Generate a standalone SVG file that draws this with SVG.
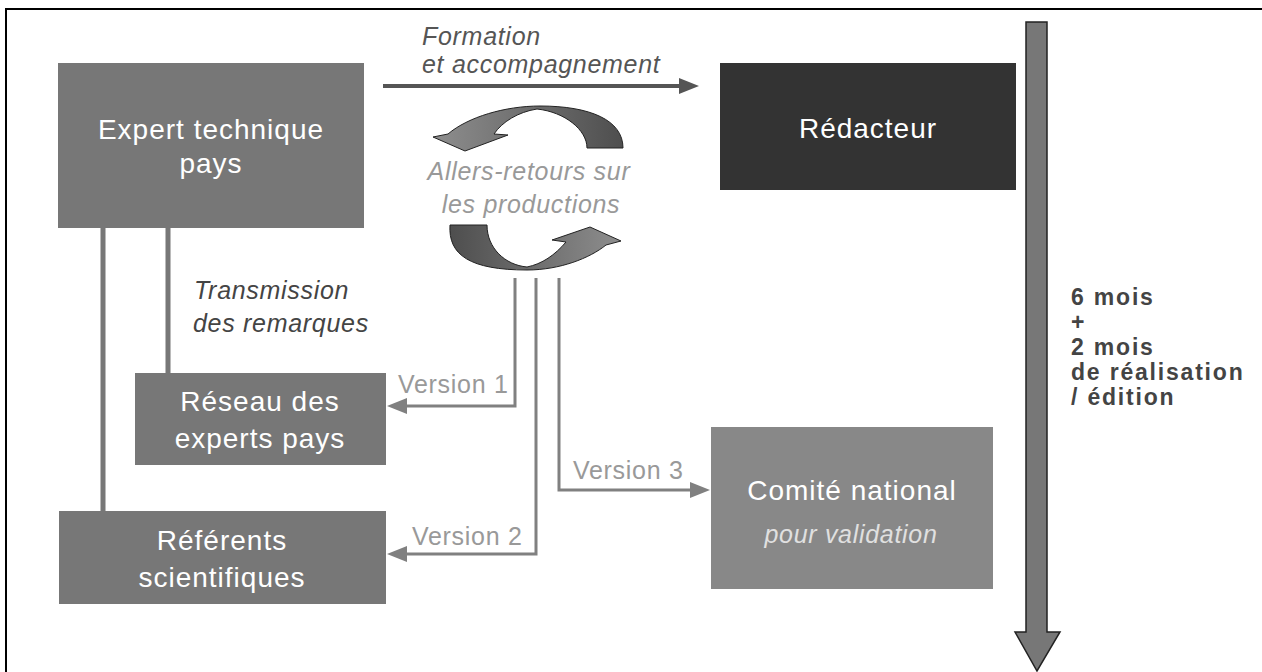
<svg xmlns="http://www.w3.org/2000/svg" width="1262" height="672" viewBox="0 0 1262 672">
<style>
.box{stroke:none}
.t{font-family:"Liberation Sans",Arial,sans-serif;font-size:28px;fill:#fff;text-anchor:middle;letter-spacing:1px}
.it{font-family:"Liberation Sans",Arial,sans-serif;font-size:25px;font-style:italic;letter-spacing:0.7px}
.ver{font-family:"Liberation Sans",Arial,sans-serif;font-size:25px;fill:#999;letter-spacing:0.7px}
.dur{font-family:"Liberation Sans",Arial,sans-serif;font-size:23px;font-weight:bold;fill:#444;letter-spacing:1.8px}
.link{fill:none;stroke:#777;stroke-width:5}
.ver-line{fill:none;stroke:#808080;stroke-width:3}
.head{fill:#808080}
</style>
<defs>
<linearGradient id="gTop" x1="1" y1="0" x2="0" y2="0">
<stop offset="0" stop-color="#4e4e4e"/><stop offset="1" stop-color="#8e8e8e"/>
</linearGradient>
<linearGradient id="gBot" x1="0" y1="0" x2="1" y2="0">
<stop offset="0" stop-color="#4e4e4e"/><stop offset="1" stop-color="#8e8e8e"/>
</linearGradient>
</defs>
<rect x="0" y="0" width="1262" height="672" fill="#fff"/>
<rect x="6" y="9" width="1300" height="700" fill="#fff" stroke="#000" stroke-width="2"/>

<g id="connectors">
<line class="link" x1="103" y1="228" x2="103" y2="511"/>
<line class="link" x1="168" y1="228" x2="168" y2="373"/>
<line x1="383" y1="86" x2="681" y2="86" stroke="#555" stroke-width="4"/>
<polygon points="679,78 699,86 679,94" fill="#555"/>
<path class="ver-line" d="M515 278 V406 H405"/>
<polygon class="head" points="407,398 387,406 407,414"/>
<path class="ver-line" d="M536 278 V554 H405"/>
<polygon class="head" points="407,546 387,554 407,562"/>
<path class="ver-line" d="M559 278 V490 H692"/>
<polygon class="head" points="690,482 710,490 690,498"/>
</g>

<g id="cycle">
<path d="M623 148 C623 120 590 106 540 106 C505 106 468 117 448 134 L433 137 L465 151 L508 135 L494 134 C502 122 518 112 537 109 C565 112 587 130 587 148 Z" fill="url(#gTop)" stroke="#222" stroke-width="1"/>
<path d="M450 225 C448 255 470 270 527 270 C560 270 590 258 606 245 L621 241 L590 227 L552 240 L566 242 C555 255 542 264 527 267 C505 265 487 248 487 225 Z" fill="url(#gBot)" stroke="#222" stroke-width="1"/>
</g>

<g id="expert">
<rect class="box" x="58" y="63" width="306" height="165" fill="#777"/>
<text class="t" x="211" y="139">Expert technique</text>
<text class="t" x="211" y="173">pays</text>
</g>
<g id="reseau">
<rect class="box" x="135" y="373" width="251" height="92" fill="#777"/>
<text class="t" x="260" y="411">Réseau des</text>
<text class="t" x="260" y="448">experts pays</text>
</g>
<g id="referents">
<rect class="box" x="59" y="511" width="327" height="93" fill="#777"/>
<text class="t" x="222" y="550">Référents</text>
<text class="t" x="222" y="587">scientifiques</text>
</g>
<g id="redacteur">
<rect class="box" x="720" y="63" width="296" height="127" fill="#333"/>
<text class="t" x="868" y="138">Rédacteur</text>
</g>
<g id="comite">
<rect class="box" x="711" y="427" width="282" height="162" fill="#888"/>
<text class="t" x="852" y="500">Comité national</text>
<text class="it" x="851" y="543" fill="#e0e0e0" text-anchor="middle">pour validation</text>
</g>

<g id="labels">
<text class="it" x="422" y="45" fill="#555">Formation</text>
<text class="it" x="422" y="73" fill="#555">et accompagnement</text>
<text class="it" x="529" y="180" fill="#999" text-anchor="middle">Allers-retours sur</text>
<text class="it" x="531" y="213" fill="#999" text-anchor="middle">les productions</text>
<text class="it" x="194" y="299" fill="#444">Transmission</text>
<text class="it" x="193" y="332" fill="#444">des remarques</text>
<text class="ver" x="398" y="393">Version 1</text>
<text class="ver" x="412" y="545">Version 2</text>
<text class="ver" x="573" y="479">Version 3</text>
</g>

<g id="timeline">
<polygon points="1026,22 1047,22 1047,632 1060,632 1037,671 1015,632 1026,632" fill="#777" stroke="#222" stroke-width="1.5"/>
<text class="dur" x="1071" y="305">6 mois</text>
<text class="dur" x="1071" y="330">+</text>
<text class="dur" x="1071" y="355">2 mois</text>
<text class="dur" x="1071" y="380">de réalisation</text>
<text class="dur" x="1071" y="405">/ édition</text>
</g>
</svg>
